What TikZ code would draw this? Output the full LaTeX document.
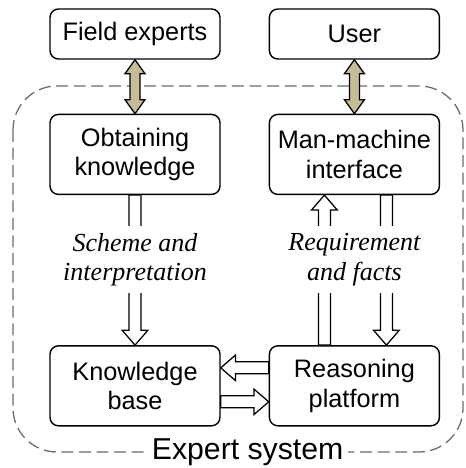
\documentclass[tikz,border=0pt]{standalone}
\usepackage{fontspec}
\setmainfont{Liberation Serif}
\setsansfont{Liberation Sans}
\usetikzlibrary{positioning, calc}
\definecolor{esKhaki}{HTML}{C6BC98}
\definecolor{esGray}{HTML}{6A6A6A}

% hollow block arrow from #2 to #3 (fill #1)
\newcommand{\blockarrow}[3][white]{%
  \coordinate (ba-base) at ($(#3)!0.37cm!(#2)$);
  \draw[line width=0.9pt, fill=#1]
    ($(#2)!0.15cm!90:(#3)$) -- ($(ba-base)!0.15cm!90:(#3)$)
    -- ($(ba-base)!0.32cm!90:(#3)$) -- (#3)
    -- ($(ba-base)!0.32cm!-90:(#3)$) -- ($(ba-base)!0.15cm!-90:(#3)$)
    -- ($(#2)!0.15cm!-90:(#3)$) -- cycle;
}
% block arrow with a head at both ends
\newcommand{\twowayarrow}[2]{%
  \coordinate (tw-a) at ($(#1)!0.35cm!(#2)$);
  \coordinate (tw-b) at ($(#2)!0.35cm!(#1)$);
  \draw[line width=0.9pt, fill=esKhaki]
    (#1) -- ($(tw-a)!0.25cm!90:(#2)$) -- ($(tw-a)!0.125cm!90:(#2)$)
    -- ($(tw-b)!0.125cm!-90:(#1)$) -- ($(tw-b)!0.25cm!-90:(#1)$) -- (#2)
    -- ($(tw-b)!0.25cm!90:(#1)$) -- ($(tw-b)!0.125cm!90:(#1)$)
    -- ($(tw-a)!0.125cm!-90:(#2)$) -- ($(tw-a)!0.25cm!-90:(#2)$) -- cycle;
}

\begin{document}
\begin{tikzpicture}[
    esbox/.style={rectangle, rounded corners=6pt, draw, line width=1pt, fill=white,
                 minimum width=4.25cm, minimum height=2cm, align=center,
                 font=\sffamily\fontsize{18}{21}\selectfont, inner sep=2pt},
    note/.style={font=\fontsize{18.5}{21}\selectfont\itshape, fill=white,
                 align=center, inner xsep=2pt, inner ysep=5pt},
    sysframe/.style={draw=esGray, line width=0.9pt, dash pattern=on 8.5pt off 4pt,
                 rounded corners=1.1cm},
  ]
    \useasboundingbox (0,0) rectangle (11.625,-11.7);

    % expert system frame
    \draw[sysframe] (0.325,-2.15) rectangle (11.575,-11.3);
    \node[font=\sffamily\fontsize{21.5}{24}\selectfont, fill=white, inner xsep=3pt,
          inner ysep=1pt] (sys) at (6.19,-11.3) {Expert system};

    \node[esbox, minimum height=1.25cm] (fe) at (3.375,-0.85) {Field experts};
    \node[esbox, minimum height=1.25cm, right=1.2cm of fe] (us) {User};
    \node[esbox, below=1.35cm of fe] (ok) {Obtaining\\knowledge};
    \node[esbox, below=1.35cm of us] (mmi) {Man-machine\\interface};
    \node[esbox, below=3.75cm of ok] (kb) {Knowledge\\base};
    \node[esbox, below=3.75cm of mmi] (rp) {Reasoning\\platform};

    \coordinate (upA) at ([xshift=-0.75cm]rp.north);
    \coordinate (upB) at ([xshift=-0.75cm]mmi.south);
    \coordinate (dnA) at ([xshift=0.8cm]mmi.south);
    \coordinate (dnB) at ([xshift=0.8cm]rp.north);
    \coordinate (ltA) at ([yshift=0.45cm]rp.west);
    \coordinate (ltB) at ([yshift=0.45cm]kb.east);
    \coordinate (rtA) at ([yshift=-0.4cm]kb.east);
    \coordinate (rtB) at ([yshift=-0.4cm]rp.west);

    \twowayarrow{fe.south}{ok.north}
    \twowayarrow{us.south}{mmi.north}
    \blockarrow{ok.south}{kb.north}
    \blockarrow{upA}{upB}
    \blockarrow{dnA}{dnB}
    \blockarrow{ltA}{ltB}
    \blockarrow{rtA}{rtB}

    \node[note] (scheme) at ($(ok.south)!0.43!(kb.north)$) {Scheme and\\interpretation};
    \node[note] (facts) at ($(mmi.south)!0.43!(rp.north)$) {Requirement\\and facts};
  \end{tikzpicture}
\end{document}
